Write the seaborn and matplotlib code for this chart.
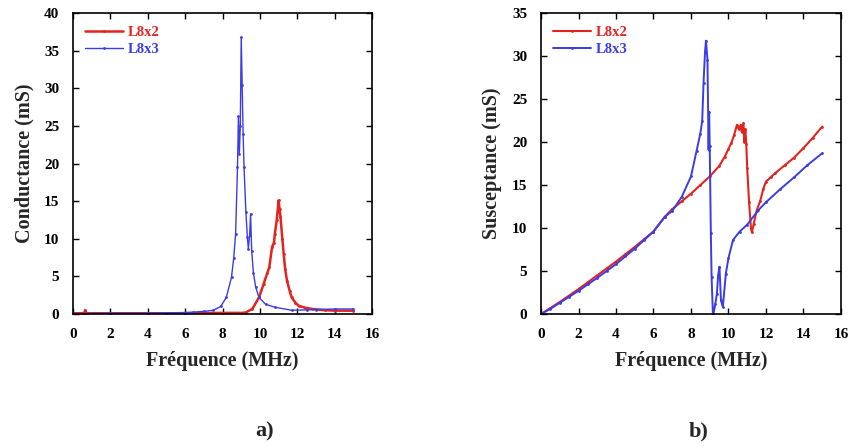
import matplotlib
matplotlib.use("Agg")
import matplotlib.pyplot as plt
import seaborn as sns
import pandas as pd

# a) Conductance (mS) vs frequence (MHz)
g2_f = [0.0, 0.5, 0.6, 0.65, 0.7, 0.8, 2, 4, 6, 8, 9.0, 9.24, 9.6, 9.95, 10.2, 10.4, 10.5, 10.65,
        10.75, 10.8, 10.9, 11.0, 11.05, 11.1, 11.2, 11.27, 11.35, 11.45, 11.6, 11.7, 11.9, 12.07,
        12.4, 12.8, 13.5, 14, 15]
g2_v = [0.1, 0.1, 0.15, 0.5, 0.15, 0.1, 0.1, 0.1, 0.1, 0.15, 0.15, 0.2, 0.7, 2.2, 4.0, 5.5, 6.2, 8.9,
        9.5, 10.7, 12.5, 15.1, 14.0, 12.9, 10.0, 8.0, 6.0, 4.4, 3.0, 2.2, 1.5, 1.1,
        0.85, 0.67, 0.5, 0.45, 0.44]
g3_f = [0.0, 2, 4, 5, 6, 6.4, 7, 7.5, 7.9, 8.2, 8.48, 8.6, 8.7, 8.8, 8.85, 8.9, 8.95, 9.0, 9.05,
        9.1, 9.15, 9.25, 9.33, 9.38, 9.45, 9.5, 9.56, 9.65, 9.77, 9.95, 10.3, 10.8, 11.7, 12.5,
        13, 14, 15]
g3_v = [0.05, 0.1, 0.1, 0.15, 0.2, 0.25, 0.35, 0.5, 1.0, 2.2, 4.9, 7.5, 10.7, 19.5, 26.3, 21.3, 25.0,
        36.8, 30.4, 24.0, 19.5, 13.5, 10.2, 8.7, 10.5, 13.3, 8.4, 5.5, 3.6, 2.2, 1.3, 0.9, 0.5,
        0.55, 0.6, 0.67, 0.67]

# b) Susceptance (mS) vs frequence (MHz)
b2_f = [0.0, 0.5, 1, 1.5, 2, 2.5, 3, 3.5, 4, 4.5, 5, 5.5, 6, 6.6, 7, 7.5, 8, 8.5, 9, 9.5, 9.8,
        10.0, 10.15, 10.3, 10.45, 10.55, 10.65, 10.7, 10.8, 10.85, 10.9, 10.95, 11.0, 11.1, 11.2,
        11.25, 11.35, 11.5, 11.7, 11.85, 12.0, 12.25, 12.5, 13.0, 13.5, 14, 14.5, 15]
b2_v = [0.0, 0.7, 1.4, 2.15, 2.9, 3.7, 4.5, 5.3, 6.1, 6.95, 7.8, 8.7, 9.6, 11.3, 12.2, 13.1, 14.0,
        15.0, 16.0, 17.2, 18.3, 19.2, 19.9, 20.8, 22.0, 21.5, 22.0, 21.2, 22.2, 20.0, 21.5, 19.8,
        17.0, 13.0, 10.0, 9.5, 10.5, 12.0, 13.2, 14.5, 15.4, 15.9, 16.4, 17.3, 18.2, 19.3, 20.5,
        21.8]
b3_f = [0.0, 0.5, 1, 1.5, 2, 2.5, 3, 3.5, 4, 4.5, 5, 5.5, 6, 6.6, 7, 7.5, 8.0, 8.3, 8.5, 8.6,
        8.67, 8.75, 8.8, 8.88, 8.94, 8.97, 9.0, 9.06, 9.1, 9.17, 9.2, 9.3, 9.38, 9.45, 9.52, 9.6,
        9.7, 9.86, 10.0, 10.24, 10.6, 11.0, 11.6, 12.0, 12.75, 13.5, 14.2, 15]
b3_v = [0.0, 0.6, 1.3, 2.0, 2.7, 3.45, 4.2, 5.0, 5.8, 6.7, 7.6, 8.6, 9.6, 11.3, 12.0, 13.6, 16.0,
        19.0, 21.0, 22.5, 26.9, 30.5, 31.8, 29.6, 19.1, 23.5, 19.5, 9.4, 4.3, 0.0, 0.0, 1.2, 2.3,
        4.5, 5.5, 1.6, 0.8, 4.7, 6.5, 8.6, 9.6, 10.4, 12.1, 13.0, 14.5, 15.9, 17.3, 18.7]

RED = "#e3231f"
BLUE = "#3c3ce6"

sns.set_theme(style="ticks")
plt.rcParams["font.family"] = ["Liberation Serif", "DejaVu Serif"]
plt.rcParams["font.weight"] = "bold"
plt.rcParams["axes.labelweight"] = "bold"

fig = plt.figure(figsize=(8.52, 4.47), dpi=100)
ax1 = fig.add_axes([0.0857, 0.2975, 0.351, 0.673])
ax2 = fig.add_axes([0.635, 0.2975, 0.352, 0.673])


def trace(ax, f, v, color, label, lw):
    d = pd.DataFrame({"f": f, "v": v})
    sns.lineplot(data=d, x="f", y="v", ax=ax, color=color, lw=lw, sort=False,
                 marker="o", markersize=2, markeredgewidth=0, label=label)


trace(ax1, g2_f, g2_v, RED, "L8x2", 1.8)
trace(ax1, g3_f, g3_v, BLUE, "L8x3", 1.0)
trace(ax2, b2_f, b2_v, RED, "L8x2", 1.5)
trace(ax2, b3_f, b3_v, BLUE, "L8x3", 1.4)

for ax, ylab, ymax in [(ax1, "Conductance (mS)", 40), (ax2, "Susceptance (mS)", 35)]:
    ax.set_xlim(0, 16)
    ax.set_ylim(0, ymax)
    ax.set_xticks(range(0, 17, 2))
    ax.set_yticks(range(0, ymax + 1, 5))
    ax.set_xlabel("Fréquence (MHz)", fontsize=14.5, labelpad=7)
    ax.set_ylabel(ylab, fontsize=14.5, labelpad=7)
    ax.tick_params(direction="in", top=True, right=True, length=4, width=1,
                   labelsize=11, colors="black", pad=10)
    for s in ax.spines.values():
        s.set_linewidth(1.2)
        s.set_color("black")
    leg = ax.legend(loc="upper left", frameon=False, fontsize=10.5, handlelength=2.6,
                    handletextpad=0.3, labelspacing=0.25, borderaxespad=0.45)
    for t, c in zip(leg.get_texts(), [RED, BLUE]):
        t.set_color(c)
        t.set_fontweight("bold")

fig.text(0.311, 0.034, "a)", fontsize=16, fontweight="bold", ha="center", va="center")
fig.text(0.820, 0.034, "b)", fontsize=16, fontweight="bold", ha="center", va="center")

fig.savefig("out.png", dpi=100)
